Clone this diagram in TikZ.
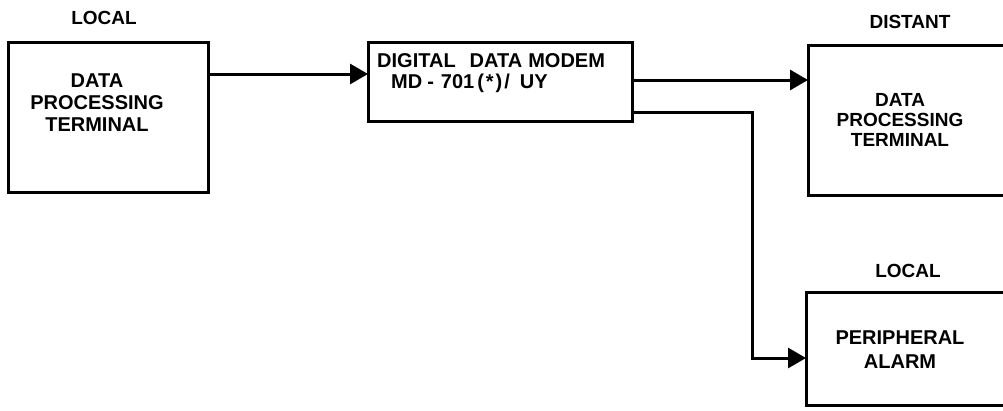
\documentclass[tikz,border=0pt]{standalone}
\usepackage{fontspec}
\newfontfamily\lettering{Liberation Sans}
\usetikzlibrary{arrows.meta}
\tikzset{
  box/.style={draw, line width=3pt, inner sep=0pt, outer sep=0pt},
  lbl/.style={inner sep=0pt, font=\lettering\bfseries\fontsize{19}{21}\selectfont},
  txt/.style={inner sep=0pt, align=center, font=\lettering\bfseries\fontsize{20}{21}\selectfont},
  conn/.style={line width=3pt, -{Triangle[length=18pt 0 0, width=20pt 0 0]}}
}
\begin{document}
\begin{tikzpicture}[x=1pt,y=-1pt]
\useasboundingbox (0,0) rectangle (1003,410);
\begin{scope}
\clip (0,0) rectangle (1003,410);
% boxes
\node[box, minimum width=200pt, minimum height=150pt] (term1) at (108,117) {};
\node[box, minimum width=264pt, minimum height=79pt] (modem) at (500,81.5) {};
\node[box, minimum width=214pt, minimum height=150pt] (term2) at (915,120) {};
\node[box, minimum width=214pt, minimum height=113pt] (alarm) at (913,348.5) {};
% labels
\node[lbl] (l1) at (104,18) {LOCAL};
\node[lbl] (l2) at (910,22) {DISTANT};
\node[lbl] (l3) at (908,271) {LOCAL};
% texts
\node[txt, font=\lettering\bfseries\fontsize{20}{22}\selectfont] (t1) at (97,103) {DATA\\PROCESSING\\TERMINAL};
\node[txt, font=\lettering\bfseries\fontsize{19}{20}\selectfont] (t2) at (900,120) {DATA\\PROCESSING\\TERMINAL};
\node[txt, font=\lettering\bfseries\fontsize{20}{24}\selectfont] (t3) at (900,350) {PERIPHERAL\\ALARM};
\node[txt, align=left, anchor=west] (t4) at (377,73) {DIGITAL\hspace{14pt}DATA\hspace{6pt}MODEM\\\hspace*{14pt}MD\hspace{5pt}-\hspace{7pt}701\hspace{3pt}(\hspace{2pt}*\hspace{2pt})\hspace{2pt}/\hspace{10pt}UY};
% connectors
\coordinate (bend) at (752,112);
\draw[conn] (term1.east |- 0,74) -- (modem.west |- 0,74);
\draw[conn] (modem.east |- 0,80) -- (term2.west |- 0,80);
\draw[conn] (modem.east |- bend) -- (bend) |- (alarm.west |- 0,358);
\end{scope}
\end{tikzpicture}
\end{document}
